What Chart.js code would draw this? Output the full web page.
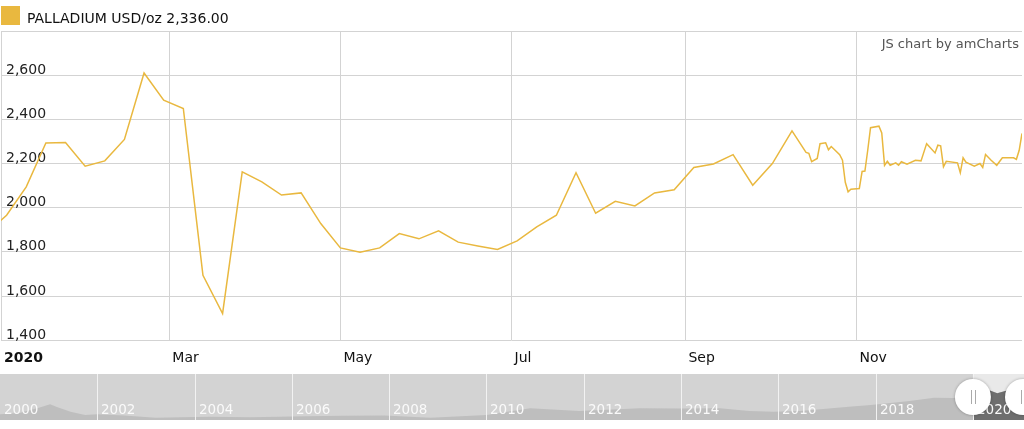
<!DOCTYPE html>
<html>
<head>
<meta charset="utf-8">
<script src="https://cdn.jsdelivr.net/npm/chart.js@4.4.1/dist/chart.umd.min.js"></script>
<style>
  html, body { margin: 0; padding: 0; background: #fff; }
  .wrap { position: relative; width: 1024px; height: 429px; overflow: hidden; font-family: "DejaVu Sans", Verdana, sans-serif; }
  #main { position: absolute; left: 0; top: 0; }
  #scroll { position: absolute; left: 0; top: 374px; }
  .credit { position: absolute; right: 5px; top: 36px; font-size: 13px; line-height: 15px; color: #555; }
</style>
</head>
<body>
<div class="wrap">
  <canvas id="main" width="1024" height="367"></canvas>
  <canvas id="scroll" width="1024" height="46"></canvas>
  <div class="credit">JS chart by amCharts</div>
</div>
<script>
// Palladium price 2020, USD/oz (weekly to October, then daily-ish)
const dates = [
  "2019-12-27", "2020-01-03", "2020-01-10", "2020-01-17", "2020-01-24", "2020-01-31",
  "2020-02-07", "2020-02-14", "2020-02-21", "2020-02-28", "2020-03-06", "2020-03-13",
  "2020-03-20", "2020-03-27", "2020-04-03", "2020-04-10", "2020-04-17", "2020-04-24",
  "2020-05-01", "2020-05-08", "2020-05-15", "2020-05-22", "2020-05-29", "2020-06-05",
  "2020-06-12", "2020-06-19", "2020-06-26", "2020-07-03", "2020-07-10", "2020-07-17",
  "2020-07-24", "2020-07-31", "2020-08-07", "2020-08-14", "2020-08-21", "2020-08-28",
  "2020-09-04", "2020-09-11", "2020-09-18", "2020-09-25", "2020-10-02", "2020-10-09",
  "2020-10-14", "2020-10-15", "2020-10-16", "2020-10-18", "2020-10-19", "2020-10-21",
  "2020-10-22", "2020-10-23", "2020-10-26", "2020-10-27", "2020-10-28", "2020-10-29",
  "2020-10-30", "2020-11-02", "2020-11-03", "2020-11-04", "2020-11-05", "2020-11-06",
  "2020-11-09", "2020-11-10", "2020-11-11", "2020-11-12", "2020-11-13", "2020-11-15",
  "2020-11-16", "2020-11-17", "2020-11-19", "2020-11-22", "2020-11-24", "2020-11-26",
  "2020-11-29", "2020-11-30", "2020-12-01", "2020-12-02", "2020-12-03", "2020-12-07",
  "2020-12-08", "2020-12-09", "2020-12-10", "2020-12-13", "2020-12-15", "2020-12-16",
  "2020-12-17", "2020-12-19", "2020-12-21", "2020-12-23", "2020-12-27", "2020-12-28",
  "2020-12-29", "2020-12-30",
];
const palladium = [
  1885, 1966, 2094, 2293, 2295, 2188,
  2212, 2309, 2610, 2487, 2449, 1694,
  1521, 2162, 2117, 2057, 2067, 1928,
  1818, 1798, 1818, 1883, 1859, 1895,
  1844, 1827, 1811, 1850, 1913, 1966,
  2158, 1975, 2029, 2008, 2067, 2081,
  2182, 2198, 2240, 2102, 2200, 2348,
  2250, 2246, 2208, 2223, 2290, 2294,
  2262, 2277, 2240, 2215, 2115, 2072,
  2084, 2087, 2164, 2166, 2260, 2362,
  2369, 2338, 2192, 2210, 2192, 2203,
  2192, 2208, 2197, 2215, 2212, 2290,
  2248, 2283, 2280, 2185, 2210, 2203,
  2158, 2226, 2206, 2188, 2200, 2182,
  2241, 2215, 2192, 2226, 2226, 2219,
  2260, 2336,
];

// x axis ticks
const monthTicks = ["2020-01-01", "2020-03-01", "2020-05-01", "2020-07-01", "2020-09-01", "2020-11-01"];
const monthLabels = ["2020", "Mar", "May", "Jul", "Sep", "Nov"];

// scrollbar: long history (year, USD/oz)
const historyYears = [
  2000.0, 2000.4, 2000.8, 2001.03, 2001.17, 2001.45, 2001.75, 2002.0, 2002.55, 2003.2,
  2004.0, 2004.3, 2005.15, 2006.0, 2007.0, 2007.9, 2008.85, 2010.0, 2010.9, 2011.9,
  2012.35, 2013.15, 2014.0, 2014.8, 2015.4, 2015.9, 2016.45, 2017.45, 2017.9, 2018.7,
  2019.2, 2019.6, 2019.85, 2020.0, 2020.1, 2020.2, 2020.35, 2020.5, 2020.7, 2020.9, 2021.05,
];
const historyPrices = [
  480, 570, 940, 1180, 990, 660, 430, 480, 395, 240,
  290, 310, 270, 325, 380, 395, 240, 430, 900, 710,
  780, 900, 885, 900, 710, 660, 710, 1010, 1130, 1410,
  1640, 1620, 1800, 1950, 2350, 1750, 2150, 1950, 2150, 2200, 2280,
];
const yearLabels = [2000, 2002, 2004, 2006, 2008, 2010, 2012, 2014, 2016, 2018, 2020];
const windowStart = 2020;

const FONT = "'DejaVu Sans', Verdana, sans-serif";
const GOLD = "#e9b83f";
const GRID = "#d3d3d3";

const dayOf = (s) => {
  const [y, m, d] = s.split("-").map(Number);
  return (Date.UTC(y, m - 1, d) - Date.UTC(2020, 0, 1)) / 86400000;
};

const lastPrice = palladium[palladium.length - 1].toLocaleString("en-US", {
  minimumFractionDigits: 2,
  maximumFractionDigits: 2,
});

// legend swatch: square sits in the top part so the text lines up lower
const swatch = document.createElement("canvas");
swatch.width = 19;
swatch.height = 26;
const sw = swatch.getContext("2d");
sw.fillStyle = GOLD;
sw.fillRect(0, 0, 19, 19);

new Chart(document.getElementById("main"), {
  type: "line",
  data: {
    datasets: [
      {
        label: "PALLADIUM USD/oz " + lastPrice,
        data: dates.map((d, i) => ({ x: dayOf(d), y: palladium[i] })),
        borderColor: GOLD,
        backgroundColor: GOLD,
        borderWidth: 1.5,
        pointRadius: 0,
        tension: 0,
        fill: false,
      },
    ],
  },
  options: {
    responsive: false,
    animation: false,
    events: [],
    layout: { padding: { left: -11, right: 2, top: 0, bottom: 0 } },
    plugins: {
      legend: {
        position: "top",
        align: "start",
        maxHeight: 31,
        labels: {
          usePointStyle: true,
          pointStyle: swatch,
          pointStyleWidth: 19,
          padding: 12,
          color: "#111",
          font: { family: FONT, size: 14 },
        },
      },
      tooltip: { enabled: false },
    },
    scales: {
      x: {
        type: "linear",
        min: 0,
        max: dayOf("2020-12-30"),
        afterBuildTicks: (s) => {
          s.ticks = monthTicks.map((d) => ({ value: dayOf(d) }));
        },
        ticks: {
          align: "start",
          labelOffset: 3,
          padding: 0,
          maxRotation: 0,
          autoSkip: false,
          color: "#111",
          callback: (v, i) => monthLabels[i],
          font: (c) => ({ family: FONT, size: 14, weight: c.index === 0 ? "bold" : "normal" }),
        },
        grid: { color: GRID, drawTicks: true, tickLength: 10, tickColor: "rgba(0,0,0,0)" },
        border: { display: false },
      },
      y: {
        min: 1400,
        max: 2800,
        afterFit: (s) => {
          s.width = 12;
        },
        ticks: {
          stepSize: 200,
          mirror: true,
          padding: 5,
          labelOffset: -5,
          color: "#222",
          font: { family: FONT, size: 14 },
          callback: (v) => (v >= 2800 ? "" : v.toLocaleString("en-US")),
        },
        grid: { color: GRID, drawTicks: false },
        border: { display: false },
      },
    },
  },
});

// Scrollbar
function drawHandle(ctx, cx, cy) {
  ctx.save();
  ctx.beginPath();
  ctx.arc(cx, cy, 18, 0, Math.PI * 2);
  ctx.fillStyle = "#fff";
  ctx.shadowColor = "rgba(0,0,0,0.3)";
  ctx.shadowBlur = 3;
  ctx.fill();
  ctx.shadowColor = "transparent";
  ctx.strokeStyle = "#aaa";
  ctx.lineWidth = 1;
  [-2, 2].forEach((dx) => {
    ctx.beginPath();
    ctx.moveTo(Math.round(cx + dx) + 0.5, cy - 7);
    ctx.lineTo(Math.round(cx + dx) + 0.5, cy + 7);
    ctx.stroke();
  });
  ctx.restore();
}

const scrollDecor = {
  id: "scrollDecor",
  beforeDatasetsDraw(chart) {
    const { ctx, chartArea: a, scales } = chart;
    const sx = scales.x.getPixelForValue(windowStart);
    ctx.save();
    ctx.fillStyle = "#d3d3d3";
    ctx.fillRect(a.left, a.top, a.width, a.height);
    ctx.fillStyle = "#e9e9e9";
    ctx.fillRect(sx, a.top, a.right - sx, a.height);
    ctx.restore();
  },
  afterDatasetsDraw(chart) {
    const { ctx, chartArea: a, scales } = chart;
    ctx.save();
    ctx.strokeStyle = "#f2f2f2";
    ctx.lineWidth = 1;
    ctx.fillStyle = "#fafafa";
    ctx.font = "13.5px " + FONT;
    ctx.textAlign = "left";
    ctx.textBaseline = "middle";
    yearLabels.forEach((yr) => {
      const px = Math.round(scales.x.getPixelForValue(yr)) + 0.5;
      if (yr > 2000) {
        ctx.beginPath();
        ctx.moveTo(px, a.top);
        ctx.lineTo(px, a.bottom);
        ctx.stroke();
      }
      ctx.fillText(String(yr), px + 3.5, 36);
    });
    ctx.restore();
    drawHandle(ctx, scales.x.getPixelForValue(windowStart), 23);
    drawHandle(ctx, a.right - 1, 23);
  },
};

const history = historyYears.map((x, i) => ({ x, y: historyPrices[i] }));

// the first dataset is painted last, so the selected window goes first
new Chart(document.getElementById("scroll"), {
  type: "line",
  data: {
    datasets: [
      {
        data: history.filter((p) => p.x >= windowStart),
        fill: "start",
        backgroundColor: "#6e6e6e",
        borderWidth: 0,
        pointRadius: 0,
      },
      { data: history, fill: "start", backgroundColor: "#bebebe", borderWidth: 0, pointRadius: 0 },
    ],
  },
  options: {
    responsive: false,
    animation: false,
    events: [],
    layout: { padding: 0 },
    plugins: { legend: { display: false }, tooltip: { enabled: false } },
    scales: {
      x: { type: "linear", display: false, min: 2000, max: 2021.05 },
      y: { display: false, min: 80, max: 3300 },
    },
  },
  plugins: [scrollDecor],
});
</script>
</body>
</html>
